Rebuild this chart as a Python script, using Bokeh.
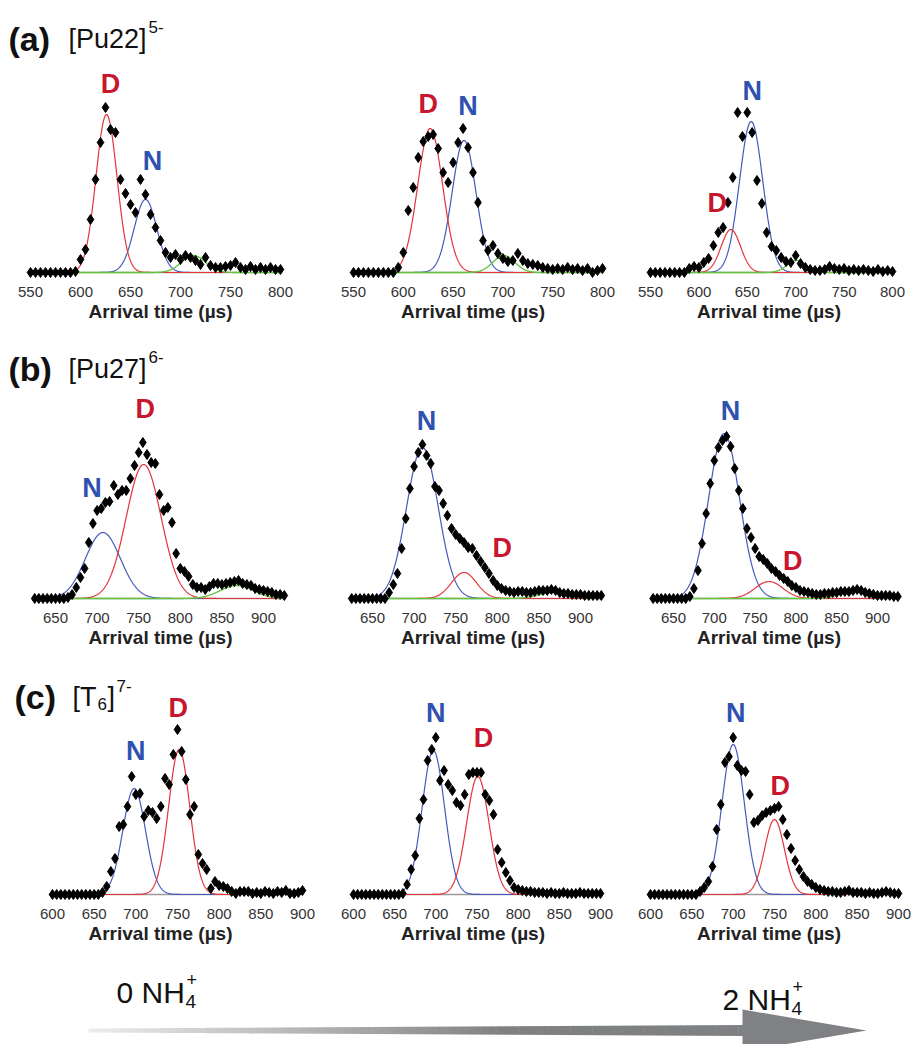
import numpy as np
from bokeh.plotting import figure
from bokeh.layouts import column, row
from bokeh.models import FixedTicker, Range1d
from bokeh.core.properties import value
from bokeh.embed import file_html
from bokeh.resources import INLINE

# ---------------- data ----------------
time_a = [550, 555, 560, 565, 570, 575, 580, 585, 590, 595, 600, 605, 610, 615, 620, 625, 630, 635,
          640, 645, 650, 655, 660, 665, 670, 675, 680, 685, 690, 695, 700, 705, 710, 715, 720, 725,
          730, 735, 740, 745, 750, 755, 760, 765, 770, 775, 780, 785, 790, 795, 800]
pu22_0 = [0, 0, 0, 0, 0, 0, 0, 0, 0, 1, 13, 23, 53, 93, 130, 165, 143, 140, 93, 79, 68, 60, 93, 78,
          58, 45, 32, 20, 15, 18, 13, 17, 15, 12, 8, 15, 7, 5, 5, 6, 7, 10, 5, 3, 6, 3, 5, 3, 5, 3, 3]
pu22_1 = [0, 0, 0, 0, 0, 0, 0, 0, 0, 5, 20, 62, 85, 115, 131, 136, 138, 124, 100, 90, 110, 130, 144,
          125, 100, 70, 32, 22, 27, 19, 14, 11, 12, 19, 12, 9, 8, 7, 5, 4, 3, 4, 3, 5, 3, 4, 2, 4, 0, 2, 4]
pu22_2 = [0, 0, 0, 0, 0, 0, 0, 0, 4, 6, 5, 10, 14, 27, 40, 45, 70, 95, 160, 136, 160, 140, 92, 69,
          40, 26, 22, 15, 11, 10, 17, 9, 5, 3, 2, 2, 3, 6, 4, 3, 4, 2, 3, 2, 3, 2, 1, 3, 1, 2, 1]

time_b = [625, 630, 635, 640, 645, 650, 655, 660, 665, 670, 675, 680, 685, 690, 695, 700, 705, 710,
          715, 720, 725, 730, 735, 740, 745, 750, 755, 760, 765, 770, 775, 780, 785, 790, 795, 800,
          805, 810, 815, 820, 825, 830, 835, 840, 845, 850, 855, 860, 865, 870, 875, 880, 885, 890,
          895, 900, 905, 910, 915, 920, 925]
pu27_0 = [0, 0, 0, 0, 0, 0, 0, 0, 1, 4, 11, 21, 30, 56, 75, 88, 90, 96, 97, 113, 104, 108, 108, 120,
          133, 146, 156, 144, 136, 135, 104, 88, 91, 76, 45, 30, 27, 22, 14, 11, 11, 9, 12, 15, 15,
          14, 15, 16, 17, 18, 15, 14, 13, 10, 9, 8, 7, 6, 4, 4, 3]
pu27_1 = [0, 0, 0, 0, 0, 0, 0, 0, 0, 6, 14, 25, 50, 80, 110, 132, 146, 154, 143, 135, 112, 108, 95,
          83, 70, 64, 60, 56, 51, 50, 43, 37, 31, 25, 18, 13, 10, 8, 7, 6, 7, 7, 6, 6, 7, 8, 8, 8, 9,
          8, 6, 5, 5, 4, 4, 4, 3, 3, 3, 3, 3]
pu27_2 = [0, 0, 0, 0, 0, 0, 0, 0, 0, 2, 10, 28, 55, 85, 115, 138, 151, 158, 162, 152, 130, 108, 90,
          70, 61, 50, 42, 39, 35, 30, 27, 23, 20, 17, 13, 11, 8, 7, 6, 5, 4, 4, 5, 5, 6, 6, 7, 7, 7,
          8, 9, 8, 6, 5, 4, 3, 3, 3, 3, 2, 2]

time_c = [600, 605, 610, 615, 620, 625, 630, 635, 640, 645, 650, 655, 660, 665, 670, 675, 680, 685,
          690, 695, 700, 705, 710, 715, 720, 725, 730, 735, 740, 745, 750, 755, 760, 765, 770, 775,
          780, 785, 790, 795, 800, 805, 810, 815, 820, 825, 830, 835, 840, 845, 850, 855, 860, 865,
          870, 875, 880, 885, 890, 895, 900]
t6_0 = [0, 0, 0, 0, 0, 0, 0, 0, 0, 0, 0, 0, 2, 8, 23, 36, 68, 70, 88, 118, 100, 101, 78, 84, 82, 76,
        88, 116, 110, 140, 165, 143, 115, 80, 88, 40, 31, 25, 6, 13, 9, 8, 6, 3, 1, 3, 3, 3, 1, 2, 1,
        3, 2, 1, 3, 2, 4, 1, 1, 2, 4]
t6_1 = [0, 0, 0, 0, 0, 0, 0, 0, 0, 0, 0, 0, 1, 10, 25, 39, 76, 95, 134, 145, 157, 114, 124, 110, 104,
        92, 89, 100, 120, 122, 122, 122, 100, 94, 80, 45, 32, 22, 14, 7, 5, 4, 3, 3, 2, 2, 2, 1, 2, 1,
        1, 2, 1, 1, 1, 2, 1, 1, 1, 1, 1]
t6_2 = [0, 0, 0, 0, 0, 0, 0, 0, 0, 0, 0, 0, 3, 7, 13, 28, 65, 90, 132, 138, 157, 129, 124, 123, 100,
        72, 74, 79, 82, 84, 86, 88, 75, 60, 46, 34, 25, 18, 13, 10, 7, 5, 4, 3, 3, 2, 2, 3, 4, 2, 2,
        2, 1, 2, 1, 1, 2, 3, 2, 1, 1]

ticks_a = [550, 600, 650, 700, 750, 800]
ticks_b = [650, 700, 750, 800, 850, 900]
ticks_c = [600, 650, 700, 750, 800, 850, 900]

# Gaussian fit parameters: (centre, amplitude, sigma)
fit_N_a = [(665, 73, 11.3), (661, 132, 12.0), (654, 151, 12.0)]
fit_D_a = [(626, 158, 10.5), (627, 144, 12.5), (633, 43, 10.0)]
fit_G_a = [(713, 17, 12.0), (701, 17, 11.0), (701, 12, 10.0)]
fit_N_b = [(707, 66, 21.0), (710, 151, 19.0), (712, 165, 19.0)]
fit_D_b = [(756, 134, 21.0), (760, 26, 15.0), (767, 17, 17.0)]
fit_G_b = [(868, 13, 20.0), (868, 6, 18.0), (873, 8, 17.0)]
fit_N_c = [(698, 106, 13.6), (697, 144, 13.6), (700, 150, 13.6)]
fit_D_c = [(752, 145, 12.7), (751, 118, 13.6), (750, 75, 12.0)]

labels_a = [[("D", 630, 189), ("N", 672, 112)], [("D", 625, 169), ("N", 665, 167)],
            [("D", 619, 70), ("N", 655, 182)]]
labels_b = [[("N", 694, 111), ("D", 758, 190)], [("N", 715, 178), ("D", 806, 51)],
            [("N", 720, 188), ("D", 796, 38)]]
labels_c = [[("N", 700, 144), ("D", 751, 187)], [("N", 700, 182), ("D", 758, 157)],
            [("N", 703, 182), ("D", 757, 109)]]

# ---------------- style ----------------
FONT = "Liberation Sans"
RED_TXT, BLUE_TXT = "#c8162f", "#2f52b0"
RED_LN, BLUE_LN, GREEN_LN = "#e3343a", "#4659bb", "#62c43c"
FIG_W = [320, 305, 287]


def gauss(t, c, a, s):
    return a * np.exp(-0.5 * ((t - c) / s) ** 2)


def make_panel(w, h, frame_h, tick_px, ticks, times, ys, fits, labels):
    # tick_px: pixel positions (relative to the figure) of first and last tick
    scale = (tick_px[1] - tick_px[0]) / (ticks[-1] - ticks[0])
    start = ticks[0] - tick_px[0] / scale
    end = start + w / scale
    p = figure(width=w, height=h, x_range=Range1d(start, end), y_range=Range1d(-6, frame_h - 6),
               output_backend="svg", toolbar_location=None, y_axis_location=None, title=None,
               min_border_left=0, min_border_right=0, min_border_top=0,
               min_border_bottom=h - frame_h)
    p.outline_line_color = None
    p.xgrid.visible = False
    p.ygrid.visible = False
    ax = p.xaxis[0]
    ax.ticker = FixedTicker(ticks=ticks)
    ax.axis_line_color = None
    ax.major_tick_line_color = None
    ax.minor_tick_line_color = None
    ax.major_tick_out = 0
    ax.major_tick_in = 0
    ax.major_label_text_font = FONT
    ax.major_label_text_font_size = "15px"
    ax.major_label_text_color = "#333333"
    ax.major_label_standoff = 8
    ax.axis_label = "Arrival time (µs)"
    ax.axis_label_text_font = FONT
    ax.axis_label_text_font_style = "bold"
    ax.axis_label_text_font_size = "19px"
    ax.axis_label_text_color = "#222222"
    ax.axis_label_standoff = 1

    tt = np.linspace(times[0], times[-1], 600)
    p.line([times[0], times[-1]], [0, 0], line_color="#9a9a9a", line_width=1.5)
    p.line(tt, gauss(tt, *fits[0]), line_color=BLUE_LN, line_width=1.2)
    p.line(tt, gauss(tt, *fits[1]), line_color=RED_LN, line_width=1.2)
    if fits[2] is not None:
        p.line(tt, gauss(tt, *fits[2]), line_color=GREEN_LN, line_width=1.4)
    p.scatter(times, ys, marker="diamond", size=10, fill_color="black", line_color="black")
    for txt, lx, ly in labels:
        p.text([lx], [ly], text=[txt], text_font=value(FONT), text_font_size="27px",
               text_font_style="bold", text_color=RED_TXT if txt == "D" else BLUE_TXT,
               text_align="center", text_baseline="middle")
    return p, start, scale


def add_title(p, start, scale, base_px, pieces):
    for txt, px, py, size, bold in pieces:
        p.text([start + px / scale], [base_px - py], text=[txt], text_font=value(FONT),
               text_font_size=size, text_font_style="bold" if bold else "normal",
               text_color="#111111", text_align="left", text_baseline="alphabetic")


rows = []
# row (a)
tick_a = [(30, 280), (33, 282), (25, 267)]
pa = []
for i, ys in enumerate([pu22_0, pu22_1, pu22_2]):
    p, st, sc = make_panel(FIG_W[i], 330, 278, tick_a[i], ticks_a, time_a, ys,
                           (fit_N_a[i], fit_D_a[i], fit_G_a[i]), labels_a[i])
    if i == 0:
        add_title(p, st, sc, 272, [("(a)", 8, 38, "34px", True), ("[Pu22]", 68, 38, "27px", False),
                                    ("5-", 148, 26, "17px", False)])
    pa.append(p)
rows.append(row(*pa))

# row (b)
tick_b = [(55, 263), (52, 260), (48, 252)]
pb = []
for i, ys in enumerate([pu27_0, pu27_1, pu27_2]):
    p, st, sc = make_panel(FIG_W[i], 330, 274, tick_b[i], ticks_b, time_b, ys,
                           (fit_N_b[i], fit_D_b[i], fit_G_b[i]), labels_b[i])
    if i == 0:
        add_title(p, st, sc, 268, [("(b)", 8, 38, "34px", True), ("[Pu27]", 68, 38, "27px", False),
                                    ("6-", 148, 26, "17px", False)])
    pb.append(p)
rows.append(row(*pb))

# row (c)
tick_c = [(52, 302), (33, 280), (25, 273)]
pc = []
for i, ys in enumerate([t6_0, t6_1, t6_2]):
    p, st, sc = make_panel(FIG_W[i], 290, 240, tick_c[i], ticks_c, time_c, ys,
                           (fit_N_c[i], fit_D_c[i], None), labels_c[i])
    if i == 0:
        add_title(p, st, sc, 234, [("(c)", 14, 36, "34px", True), ("[T", 72, 36, "27px", False),
                                    ("6", 97, 43, "17px", False), ("]", 107, 36, "27px", False),
                                    ("7-", 116, 25, "17px", False)])
    pc.append(p)
rows.append(row(*pc))

# bottom strip: NH4+ labels and arrow (canvas rows 950..1044)
STRIP_TOP = 950
pbot = figure(width=912, height=1044 - STRIP_TOP, x_range=Range1d(0, 912),
              y_range=Range1d(0, 1044 - STRIP_TOP),
              output_backend="svg", toolbar_location=None, x_axis_location=None,
              y_axis_location=None, title=None, min_border_left=0, min_border_right=0,
              min_border_top=0, min_border_bottom=0)
pbot.outline_line_color = None
pbot.xgrid.visible = False
pbot.ygrid.visible = False


def Y(py):
    return 1044 - py


for (x0, by, main) in [(116, 992, "0 NH"), (722, 999, "2 NH")]:
    pbot.text([x0], [Y(by)], text=[main], text_font=value(FONT), text_font_size="30px",
              text_color="#111111", text_baseline="alphabetic")
    pbot.text([x0 + 69], [Y(by + 9)], text=["4"], text_font=value(FONT), text_font_size="19px",
              text_color="#111111", text_baseline="alphabetic")
    pbot.text([x0 + 70], [Y(by - 13)], text=["+"], text_font=value(FONT), text_font_size="18px",
              text_color="#111111", text_baseline="alphabetic")

# arrow shaft with a light-to-grey gradient
n = 90
xs = np.linspace(88, 745, n + 1)
lefts, rights, tops, bottoms, cols = [], [], [], [], []
for k in range(n):
    xm = 0.5 * (xs[k] + xs[k + 1])
    f = min(1.0, (xm - 88) / 420.0)
    c = int(236 - f * (236 - 127))
    half = 2.0 + 3.5 * (xm - 88) / (745 - 88)
    lefts.append(xs[k]); rights.append(xs[k + 1] + 0.5)
    tops.append(Y(1030 - half)); bottoms.append(Y(1030 + half))
    cols.append("#%02x%02x%02x" % (c, c + 1, c + 3))
pbot.quad(left=lefts, right=rights, top=tops, bottom=bottoms, fill_color=cols, line_color=None)
pbot.patch([742, 866, 742], [Y(1009), Y(1030), Y(1051)], fill_color="#7f8184", line_color=None)

layout = column(*rows, pbot)
open("out.html", "w").write(file_html(layout, INLINE))
